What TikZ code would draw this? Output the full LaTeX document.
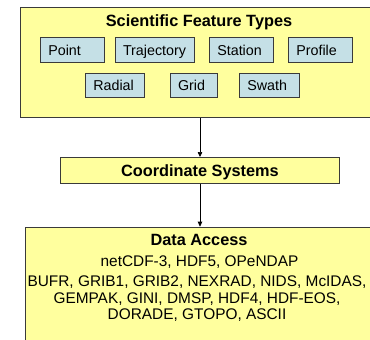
\documentclass[tikz,border=0pt]{standalone}
\usepackage{fontspec}
\setmainfont{Liberation Sans}
\usetikzlibrary{arrows.meta}
\definecolor{ylw}{HTML}{FFFF9E}
\definecolor{blu}{HTML}{C5E0E6}
\definecolor{edge}{HTML}{3A3A3A}
\begin{document}
\begin{tikzpicture}[x=1pt,y=-1pt,
  bigbox/.style={draw=edge, line width=0.9pt, fill=ylw, inner sep=0pt},
  ftype/.style={draw=edge, line width=1pt, fill=blu, anchor=north west,
    minimum height=25pt, inner xsep=7.5pt, inner ysep=0pt, align=left,
    text height=10.2pt, text depth=0pt, font=\fontsize{14.3}{17}\selectfont},
  ttl/.style={font=\bfseries\fontsize{16.3}{19}\selectfont, anchor=base},
  dtxt/.style={font=\fontsize{15.4}{18}\selectfont, anchor=base},
  arr/.style={-{Triangle[length=5pt,width=4.5pt]}, line width=0.7pt, black}]
\useasboundingbox (0,0) rectangle (370,340);
\fill[white] (0,0) rectangle (370,340);
% top box
\node[bigbox, minimum width=359.4pt, minimum height=110pt, anchor=north] (top) at (200,7) {};
\node[ttl] (toptitle) at (199,26.7) {Scientific Feature Types};
\node[ftype, text width=48.4pt] (point) at (40.3,37.3) {Point};
\node[ftype, text width=64.3pt] (traj) at (115,37.3) {Trajectory};
\node[ftype, text width=49pt] (station) at (209.3,37.3) {Station};
\node[ftype, text width=48.4pt] (profile) at (288.3,37.3) {Profile};
\node[ftype, text width=44pt, minimum height=24.3pt] (radial) at (85.3,73) {Radial};
\node[ftype, text width=32.3pt, minimum height=24.3pt] (grid) at (170,73) {Grid};
\node[ftype, text width=44.7pt, minimum height=24.3pt] (swath) at (239.3,73) {Swath};
% coordinate systems
\node[bigbox, minimum width=279.7pt, minimum height=26pt, anchor=north,
  text height=11.7pt, text depth=0pt, font=\bfseries\fontsize{16.3}{19}\selectfont] (cs) at (200,157) {Coordinate Systems};
% data access
\node[bigbox, minimum width=349pt, minimum height=140pt, anchor=north] (da) at (200,226.7) {};
\node[ttl] (datitle) at (199,245) {Data Access};
\node[dtxt] (l1) at (199.5,266.7) {netCDF-3, HDF5, OPeNDAP};
\node[dtxt] (l2) at (197,286.7) {BUFR, GRIB1, GRIB2, NEXRAD, NIDS, McIDAS,};
\node[dtxt] (l3) at (197,303.3) {GEMPAK, GINI, DMSP, HDF4, HDF-EOS,};
\node[dtxt] (l4) at (197,319.3) {DORADE, GTOPO, ASCII};
% arrows
\draw[arr] (top.south) -- (cs.north);
\draw[arr] (cs.south) -- (da.north);
\end{tikzpicture}
\end{document}
